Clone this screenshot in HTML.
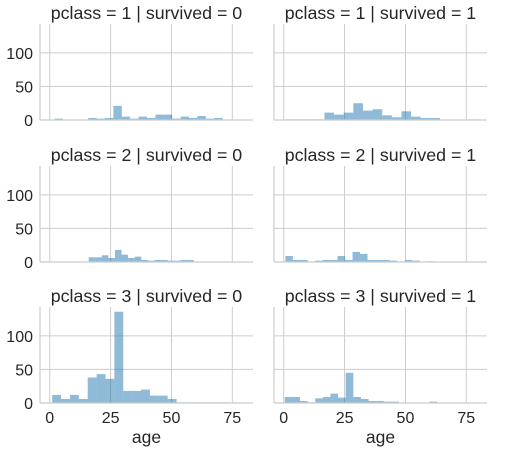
<!DOCTYPE html>
<html><head><meta charset="utf-8"><style>
html,body{margin:0;padding:0;background:#fff;}
svg{display:block;font-family:"Liberation Sans",Arial,sans-serif;}
</style></head><body>
<svg id="chart" width="505" height="450" viewBox="0 0 505 450"></svg>
<script>
const titles = ["pclass = 1 | survived = 0","pclass = 1 | survived = 1","pclass = 2 | survived = 0","pclass = 2 | survived = 1","pclass = 3 | survived = 0","pclass = 3 | survived = 1"];
const binMin = [2, 0.92, 16, 0.67, 1, 0.42];
const binMax = [71, 80, 70, 62, 74, 63];
const counts1_0 = [2,0,0,0,3,2,3,21,5,2,5,3,8,8,2,5,3,6,2,3];
const counts1_1 = [1,1,1,1,11,8,11,25,14,16,7,4,13,5,3,3,0,0,0,1];
const counts2_0 = [7,7,10,6,18,11,6,8,3,2,3,3,2,2,3,3,0,0,0,0];
const counts2_1 = [9,3,3,0,2,3,3,9,3,15,12,3,3,3,2,0,3,2,0,1];
const counts3_0 = [12,6,12,6,38,43,36,136,18,18,20,11,11,6,1,1,1,1,1,1];
const counts3_1 = [9,9,3,1,7,9,14,8,45,9,6,3,3,2,2,0,0,0,0,2];
const allCounts = [counts1_0,counts1_1,counts2_0,counts2_1,counts3_0,counts3_1];
const xTicks = [0,25,50,75];
const yTicks = [0,50,100];
const xLim = [-4, 83.5];
const yLim = [0, 143];

const NS = "http://www.w3.org/2000/svg";
const svg = document.getElementById('chart');
const colLeft = [40, 274], axW = 213;
const rowTop = [24, 166, 307], rowBot = [120, 262, 403];
function mk(tag, attrs, parent){const e=document.createElementNS(NS,tag);for(const k in attrs)e.setAttribute(k,attrs[k]);(parent||svg).appendChild(e);return e;}

for(let i=0;i<6;i++){
  const r=Math.floor(i/2), c=i%2;
  const L=colLeft[c], T=rowTop[r], B=rowBot[r];
  const sx=v=>L+(v-xLim[0])/(xLim[1]-xLim[0])*axW;
  const sy=v=>B-(v-yLim[0])/(yLim[1]-yLim[0])*(B-T);
  const g=mk('g',{});
  
  
  xTicks.forEach(t=>{const l=mk('line',{x1:sx(t),x2:sx(t),y1:T,y2:B,stroke:'#cccccc','stroke-width':1},g);
    
    });
  yTicks.forEach(t=>{const l=mk('line',{x1:L,x2:L+axW,y1:sy(t),y2:sy(t),stroke:'#cccccc','stroke-width':1},g);
    
    });
  const cnt=allCounts[i], n=cnt.length, w=(binMax[i]-binMin[i])/n;
  cnt.forEach((v,k)=>{ if(v<=0) return;
    const x0=sx(binMin[i]+k*w), x1=sx(binMin[i]+(k+1)*w);
    const b=mk('rect',{x:x0,y:sy(v),width:x1-x0,height:sy(0)-sy(v),fill:'#1f77b4','fill-opacity':0.5},g);
    
    });
  const sp1=mk('line',{x1:L,x2:L,y1:T,y2:B,stroke:'#cccccc','stroke-width':1.2},g);
  
  
  const sp2=mk('line',{x1:L,x2:L+axW,y1:B,y2:B,stroke:'#cccccc','stroke-width':1.2},g);
  
  
  const tt=mk('text',{x:L+axW/2,y:T-5,'text-anchor':'middle','font-size':17.8,fill:'#262626'},g);
  tt.textContent=titles[i];
  
  
  if(c===0){yTicks.forEach(t=>{const tl=mk('text',{x:L-7,y:sy(t)+6,'text-anchor':'end','font-size':16,fill:'#262626'},g);
    tl.textContent=t;
    
    });}
  if(r===2){xTicks.forEach(t=>{const tl=mk('text',{x:sx(t),y:B+20,'text-anchor':'middle','font-size':16,fill:'#262626'},g);
    tl.textContent=t;
    
    });
    const at=mk('text',{x:L+axW/2,y:B+40,'text-anchor':'middle','font-size':17.5,fill:'#262626'},g);
    at.textContent='age';
    
    }
}
</script>
</body></html>
